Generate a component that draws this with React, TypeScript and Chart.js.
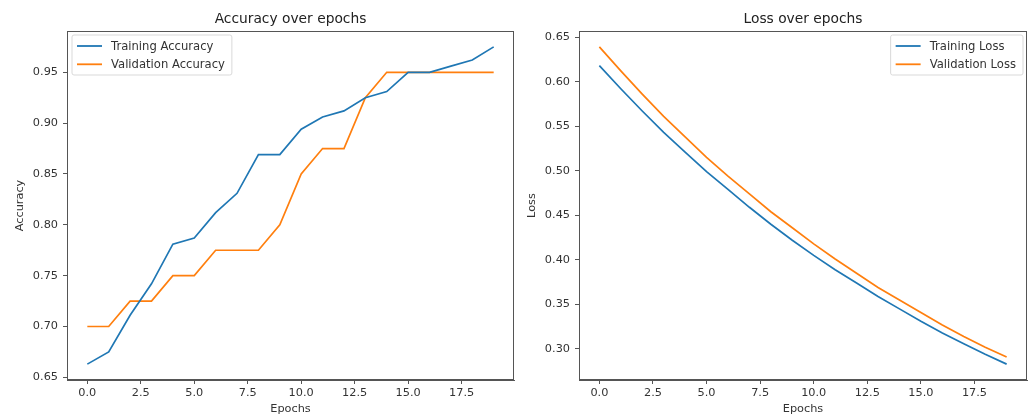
import React, { useEffect, useRef } from 'react';
import { Chart, registerables } from 'chart.js';

Chart.register(...registerables);

const epochs = [0, 1, 2, 3, 4, 5, 6, 7, 8, 9, 10, 11, 12, 13, 14, 15, 16, 17, 18, 19];
const trainingAccuracy = [0.663, 0.675, 0.711, 0.742, 0.781, 0.787, 0.812, 0.831, 0.869, 0.869, 0.894, 0.906, 0.912, 0.925, 0.931, 0.95, 0.95, 0.956, 0.962, 0.975];
const validationAccuracy = [0.7, 0.7, 0.725, 0.725, 0.75, 0.75, 0.775, 0.775, 0.775, 0.8, 0.85, 0.875, 0.875, 0.925, 0.95, 0.95, 0.95, 0.95, 0.95, 0.95];
const trainingLoss = [0.618, 0.592, 0.567, 0.543, 0.521, 0.499, 0.479, 0.459, 0.44, 0.422, 0.405, 0.389, 0.374, 0.359, 0.345, 0.331, 0.318, 0.306, 0.294, 0.283];
const validationLoss = [0.639, 0.612, 0.586, 0.561, 0.538, 0.515, 0.494, 0.474, 0.454, 0.436, 0.418, 0.401, 0.385, 0.369, 0.355, 0.341, 0.327, 0.314, 0.302, 0.291];
const epochTicks = [0, 2.5, 5, 7.5, 10, 12.5, 15, 17.5];
const accuracyTicks = [0.65, 0.7, 0.75, 0.8, 0.85, 0.9, 0.95];
const lossTicks = [0.3, 0.35, 0.4, 0.45, 0.5, 0.55, 0.6, 0.65];

const BLUE = '#1f77b4';
const ORANGE = '#ff7f0e';
const FRAME = '#555555';
const TEXT = '#333333';
const FAMILY = '"DejaVu Sans", sans-serif';
const H = 417;

type Opts = {
  width: number;
  yWidth: number;
  padRight: number;
  title: string;
  yLabel: string;
  yLabelX: number;
  yMin: number;
  yMax: number;
  yTicks: number[];
  series: { label: string; values: number[]; color: string }[];
  legendSide: 'left' | 'right';
};

function makeDecor(o: Opts) {
  return {
    id: 'decor',
    afterDraw(chart: any) {
      const ctx = chart.ctx as CanvasRenderingContext2D;
      const a = chart.chartArea;
      ctx.save();
      // frame
      ctx.strokeStyle = FRAME;
      ctx.lineWidth = 1;
      ctx.strokeRect(Math.round(a.left) + 0.5, Math.round(a.top) + 0.5, Math.round(a.right - a.left) - 1, Math.round(a.bottom - a.top) - 1);
      // title
      ctx.fillStyle = '#222';
      ctx.textAlign = 'center';
      ctx.textBaseline = 'middle';
      ctx.font = `13.8px ${FAMILY}`;
      ctx.fillText(o.title, (a.left + a.right) / 2, 19);
      // x label
      ctx.fillStyle = TEXT;
      ctx.font = `11.3px ${FAMILY}`;
      ctx.fillText('Epochs', (a.left + a.right) / 2, 409);
      // y label
      ctx.save();
      ctx.translate(o.yLabelX, (a.top + a.bottom) / 2);
      ctx.rotate(-Math.PI / 2);
      ctx.fillText(o.yLabel, 0, 0);
      ctx.restore();

      // legend
      ctx.font = `11.6px ${FAMILY}`;
      const textW = Math.max(...o.series.map((s) => ctx.measureText(s.label).width));
      const padL = 5, handle = 25, gap = 9, padR = 7;
      const bw = padL + handle + gap + textW + padR;
      const bh = 40;
      const bx = o.legendSide === 'left' ? a.left + 5 : a.right - 4 - bw;
      const by = a.top + 4;
      ctx.beginPath();
      const r = 2;
      ctx.moveTo(bx + r, by);
      ctx.lineTo(bx + bw - r, by);
      ctx.quadraticCurveTo(bx + bw, by, bx + bw, by + r);
      ctx.lineTo(bx + bw, by + bh - r);
      ctx.quadraticCurveTo(bx + bw, by + bh, bx + bw - r, by + bh);
      ctx.lineTo(bx + r, by + bh);
      ctx.quadraticCurveTo(bx, by + bh, bx, by + bh - r);
      ctx.lineTo(bx, by + r);
      ctx.quadraticCurveTo(bx, by, bx + r, by);
      ctx.closePath();
      ctx.fillStyle = 'rgba(255,255,255,0.85)';
      ctx.fill();
      ctx.strokeStyle = '#d9d9d9';
      ctx.lineWidth = 1;
      ctx.stroke();
      o.series.forEach((s, i) => {
        const cy = by + 11 + i * 18.3;
        ctx.strokeStyle = s.color;
        ctx.lineWidth = 1.8;
        ctx.beginPath();
        ctx.moveTo(bx + padL, cy);
        ctx.lineTo(bx + padL + handle, cy);
        ctx.stroke();
        ctx.fillStyle = TEXT;
        ctx.textAlign = 'left';
        ctx.textBaseline = 'middle';
        ctx.fillText(s.label, bx + padL + handle + gap, cy + 0.5);
      });
      ctx.restore();
    },
  };
}

function makeConfig(o: Opts): any {
  const tickFont = { family: FAMILY, size: 11.3 };
  return {
    type: 'line',
    data: {
      datasets: o.series.map((s) => ({
        label: s.label,
        data: epochs.map((e, i) => ({ x: e, y: s.values[i] })),
        borderColor: s.color,
        backgroundColor: s.color,
        borderWidth: 1.7,
        pointRadius: 0,
        tension: 0,
        fill: false,
      })),
    },
    options: {
      animation: false,
      responsive: false,
      devicePixelRatio: 1,
      layout: { padding: { left: 0, right: o.padRight, top: 31, bottom: 0 } },
      plugins: {
        legend: { display: false },
        title: { display: false },
        tooltip: { enabled: false },
      },
      scales: {
        x: {
          type: 'linear',
          min: -0.95,
          max: 19.95,
          afterBuildTicks: (s: any) => {
            s.ticks = epochTicks.map((v) => ({ value: v }));
          },
          afterFit: (s: any) => {
            s.height = H - 380;
          },
          ticks: {
            callback: (v: any) => Number(v).toFixed(1),
            font: tickFont,
            color: TEXT,
            padding: 2,
            maxRotation: 0,
            autoSkip: false,
          },
          grid: { drawOnChartArea: false, drawTicks: true, tickLength: 4, color: FRAME },
          border: { display: true, color: FRAME },
        },
        y: {
          type: 'linear',
          min: o.yMin,
          max: o.yMax,
          afterBuildTicks: (s: any) => {
            s.ticks = o.yTicks.map((v) => ({ value: v }));
          },
          afterFit: (s: any) => {
            s.width = o.yWidth;
          },
          ticks: {
            callback: (v: any) => Number(v).toFixed(2),
            font: tickFont,
            color: TEXT,
            padding: 5,
            autoSkip: false,
          },
          grid: { drawOnChartArea: false, drawTicks: true, tickLength: 4, color: FRAME },
          border: { display: true, color: FRAME },
        },
      },
    },
    plugins: [makeDecor(o)],
  };
}

function ChartCanvas({ o, left }: { o: Opts; left: number }) {
  const ref = useRef<HTMLCanvasElement | null>(null);
  useEffect(() => {
    if (!ref.current) return;
    const chart = new Chart(ref.current, makeConfig(o));
    return () => chart.destroy();
  }, []);
  return (
    <canvas
      ref={ref}
      width={o.width}
      height={H}
      style={{ position: 'absolute', left, top: 0, width: o.width, height: H }}
    />
  );
}

const accuracyOpts: Opts = {
  width: 517,
  yWidth: 67,
  padRight: 3,
  title: 'Accuracy over epochs',
  yLabel: 'Accuracy',
  yLabelX: 20,
  yMin: 0.6474,
  yMax: 0.9906,
  yTicks: accuracyTicks,
  series: [
    { label: 'Training Accuracy', values: trainingAccuracy, color: BLUE },
    { label: 'Validation Accuracy', values: validationAccuracy, color: ORANGE },
  ],
  legendSide: 'left',
};

const lossOpts: Opts = {
  width: 518,
  yWidth: 62,
  padRight: 8,
  title: 'Loss over epochs',
  yLabel: 'Loss',
  yLabelX: 15,
  yMin: 0.2652,
  yMax: 0.6568,
  yTicks: lossTicks,
  series: [
    { label: 'Training Loss', values: trainingLoss, color: BLUE },
    { label: 'Validation Loss', values: validationLoss, color: ORANGE },
  ],
  legendSide: 'right',
};

export default function App() {
  return (
    <div style={{ position: 'absolute', left: 0, top: 0, width: 1035, height: H, background: '#fff' }}>
      <ChartCanvas o={accuracyOpts} left={0} />
      <ChartCanvas o={lossOpts} left={517} />
    </div>
  );
}
